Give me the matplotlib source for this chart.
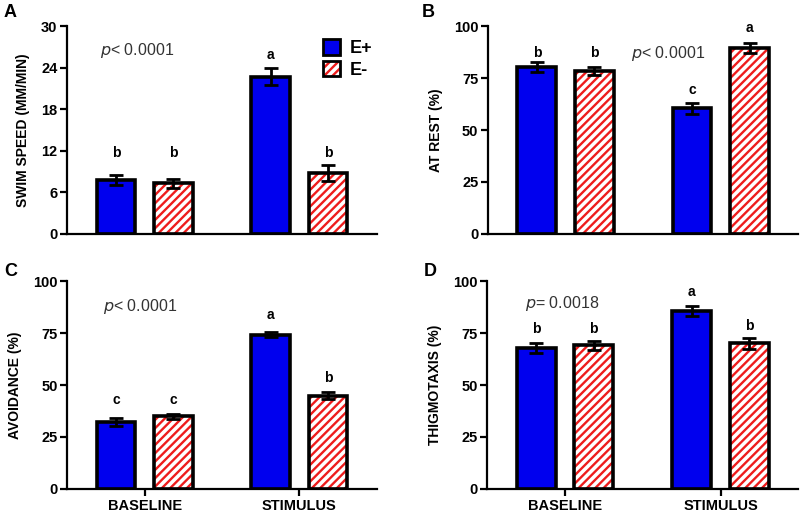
import numpy as np
import matplotlib
matplotlib.use("Agg")
import matplotlib.pyplot as plt
from matplotlib.patches import Patch

plt.rcParams['font.family'] = ['Liberation Sans', 'DejaVu Sans']
plt.rcParams['hatch.linewidth'] = 1.7

# ------------------------------- data -------------------------------
groups = ['BASELINE', 'STIMULUS']
series = ['E+', 'E-']

# panel A - swim speed
swim_eplus = [7.8, 22.7]
swim_eplus_err = [0.7, 1.2]
swim_eminus = [7.3, 8.8]
swim_eminus_err = [0.7, 1.1]
swim_letters = ['b', 'b', 'a', 'b']          # E+ base, E- base, E+ stim, E- stim
swim_letter_y = [11.7, 11.7, 25.8, 11.7]

# panel B - at rest
rest_eplus = [80.4, 60.4]
rest_eplus_err = [2.4, 2.6]
rest_eminus = [78.5, 89.6]
rest_eminus_err = [2.0, 2.5]
rest_letters = ['b', 'b', 'c', 'a']
rest_letter_y = [87.1, 87.1, 69.2, 98.9]

# panel C - avoidance
avoid_eplus = [32.2, 74.3]
avoid_eplus_err = [1.8, 1.2]
avoid_eminus = [34.9, 44.9]
avoid_eminus_err = [1.2, 1.5]
avoid_letters = ['c', 'c', 'a', 'b']
avoid_letter_y = [42.9, 42.9, 83.5, 53.4]

# panel D - thigmotaxis
thig_eplus = [67.9, 85.6]
thig_eplus_err = [2.5, 2.3]
thig_eminus = [69.1, 70.0]
thig_eminus_err = [2.3, 2.7]
thig_letters = ['b', 'b', 'a', 'b']
thig_letter_y = [76.8, 76.8, 94.6, 78.4]

BLUE = '#0000ee'
RED = '#ee1c1c'

fig = plt.figure(figsize=(8, 5.13), dpi=100)

# positions in figure fraction
axA = fig.add_axes([0.084, 0.544, 0.387, 0.405])
axB = fig.add_axes([0.610, 0.544, 0.388, 0.405])
axC = fig.add_axes([0.084, 0.047, 0.387, 0.405])
axD = fig.add_axes([0.609, 0.047, 0.389, 0.405])

group_x = np.array([2.0, 6.0])
off = 0.74
width = 1.0


def panel(ax, ep, ep_err, em, em_err, letters, letter_y, ymax, yticks, ylabel,
          ptext, pxy, show_groups):
    xe = group_x - off
    xm = group_x + off
    ax.bar(xe, ep, width, color=BLUE, edgecolor='black', linewidth=2.6, zorder=2)
    # hatched E- bars: red stripes, then black outline over them
    ax.bar(xm, em, width, color='white', edgecolor=RED, hatch='////', linewidth=0, zorder=2)
    ax.bar(xm, em, width, color='none', edgecolor='black', linewidth=2.6, zorder=3)
    ax.errorbar(xe, ep, yerr=ep_err, fmt='none', ecolor='black', elinewidth=2,
                capsize=5, capthick=2, zorder=4)
    ax.errorbar(xm, em, yerr=em_err, fmt='none', ecolor='black', elinewidth=2,
                capsize=5, capthick=2, zorder=4)
    xs = [xe[0], xm[0], xe[1], xm[1]]
    for x, t, y in zip(xs, letters, letter_y):
        ax.text(x, y, t, ha='center', va='center', fontsize=10, fontweight='bold')

    ax.set_xlim(0, 8)
    ax.set_ylim(0, ymax)
    ax.set_yticks(yticks)
    ax.set_yticklabels([str(v) for v in yticks], fontsize=10.5, fontweight='bold')
    ax.set_ylabel(ylabel, fontsize=10, fontweight='bold', labelpad=8)
    for s in ['top', 'right']:
        ax.spines[s].set_visible(False)
    for s in ['left', 'bottom']:
        ax.spines[s].set_linewidth(1.6)
    ax.tick_params(axis='y', width=1.6, length=5, pad=2)
    if show_groups:
        ax.set_xticks(group_x)
        ax.set_xticklabels(groups, fontsize=10.5, fontweight='bold')
        ax.tick_params(axis='x', width=1.6, length=5, pad=2)
    else:
        ax.set_xticks([])
    ax.text(pxy[0], pxy[1], r'$\it{p}$' + ptext, transform=ax.transAxes,
            fontsize=11.5, color='#333333', ha='left', va='center')


panel(axA, swim_eplus, swim_eplus_err, swim_eminus, swim_eminus_err,
      swim_letters, swim_letter_y, 30, [0, 6, 12, 18, 24, 30],
      'SWIM SPEED (MM/MIN)', '< 0.0001', (0.107, 0.885), False)
panel(axB, rest_eplus, rest_eplus_err, rest_eminus, rest_eminus_err,
      rest_letters, rest_letter_y, 100, [0, 25, 50, 75, 100],
      'AT REST (%)', '< 0.0001', (0.462, 0.87), False)
panel(axC, avoid_eplus, avoid_eplus_err, avoid_eminus, avoid_eminus_err,
      avoid_letters, avoid_letter_y, 100, [0, 25, 50, 75, 100],
      'AVOIDANCE (%)', '< 0.0001', (0.117, 0.88), True)
panel(axD, thig_eplus, thig_eplus_err, thig_eminus, thig_eminus_err,
      thig_letters, thig_letter_y, 100, [0, 25, 50, 75, 100],
      'THIGMOTAXIS (%)', '= 0.0018', (0.123, 0.89), True)

# legend in panel A
h_plus = Patch(facecolor=BLUE, edgecolor='black', linewidth=2)
h_minus = (Patch(facecolor='white', edgecolor=RED, hatch='////', linewidth=0),
           Patch(facecolor='none', edgecolor='black', linewidth=2))
axA.legend([h_plus, h_minus], series, loc='upper left', bbox_to_anchor=(0.79, 0.99),
           frameon=False, handlelength=0.95, handleheight=0.95,
           handletextpad=0.55, labelspacing=0.2, borderaxespad=0.2,
           prop={'weight': 'bold', 'size': 13})

# panel letters
for lab, (x, y) in zip(['A', 'B', 'C', 'D'],
                       [(0.005, 0.975), (0.527, 0.975), (0.005, 0.47), (0.53, 0.47)]):
    fig.text(x, y, lab, fontsize=13, fontweight='bold', ha='left', va='center')

fig.savefig('out.png', dpi=100)
